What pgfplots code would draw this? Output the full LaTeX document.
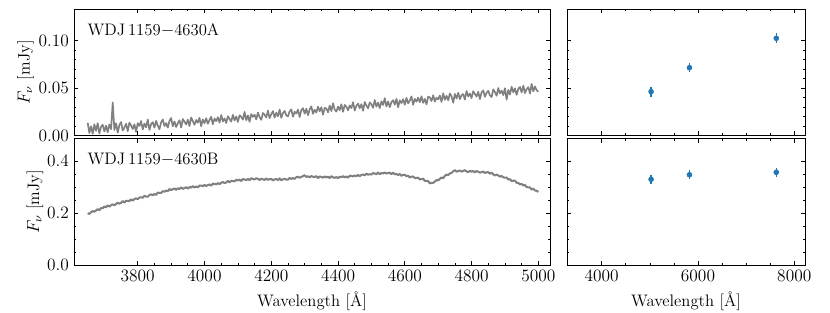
\documentclass[border=0pt]{standalone}
\usepackage{pgfplots}
\pgfplotsset{compat=1.18}
\usepackage{pgfplotstable}
\definecolor{specgray}{HTML}{808080}
\definecolor{tabblue}{HTML}{1F77B4}

\pgfplotstableread{
lam A B
3650 0.0135 0.1990
3655 0.0026 0.1965
3660 0.0097 0.2030
3665 0.0018 0.2075
3670 0.0118 0.2050
3675 0.0049 0.2095
3680 0.0130 0.2150
3685 0.0021 0.2105
3690 0.0092 0.2190
3695 0.0113 0.2185
3700 0.0043 0.2250
3705 0.0104 0.2218
3710 0.0035 0.2296
3715 0.0116 0.2244
3720 0.0067 0.2302
3725 0.0348 0.2330
3730 0.0058 0.2298
3735 0.0129 0.2346
3740 0.0030 0.2394
3745 0.0111 0.2362
3750 0.0142 0.2390
3755 0.0053 0.2456
3760 0.0083 0.2402
3765 0.0124 0.2468
3770 0.0045 0.2464
3775 0.0136 0.2460
3780 0.0107 0.2526
3785 0.0068 0.2472
3790 0.0118 0.2538
3795 0.0039 0.2564
3800 0.0130 0.2530
3805 0.0101 0.2596
3810 0.0153 0.2602
3815 0.0064 0.2588
3820 0.0125 0.2664
3825 0.0086 0.2630
3830 0.0168 0.2626
3835 0.0059 0.2692
3840 0.0120 0.2718
3845 0.0141 0.2684
3850 0.0083 0.2730
3855 0.0154 0.2698
3860 0.0105 0.2786
3865 0.0066 0.2774
3870 0.0138 0.2772
3875 0.0169 0.2840
3880 0.0100 0.2818
3885 0.0131 0.2866
3890 0.0083 0.2834
3895 0.0154 0.2922
3900 0.0185 0.2880
3905 0.0096 0.2917
3910 0.0148 0.2944
3915 0.0089 0.2891
3920 0.0130 0.2948
3925 0.0161 0.2925
3930 0.0083 0.2982
3935 0.0174 0.2929
3940 0.0145 0.2956
3945 0.0116 0.2993
3950 0.0168 0.2940
3955 0.0099 0.2998
3960 0.0190 0.2976
3965 0.0151 0.3034
3970 0.0113 0.2982
3975 0.0164 0.3020
3980 0.0135 0.2988
3985 0.0186 0.3056
3990 0.0098 0.3054
3995 0.0169 0.3032
4000 0.0130 0.3080
4005 0.0182 0.3040
4010 0.0123 0.3070
4015 0.0165 0.3100
4020 0.0197 0.3050
4025 0.0118 0.3130
4030 0.0180 0.3120
4035 0.0151 0.3100
4040 0.0193 0.3150
4045 0.0135 0.3110
4050 0.0216 0.3160
4055 0.0148 0.3191
4060 0.0180 0.3152
4065 0.0131 0.3173
4070 0.0203 0.3234
4075 0.0174 0.3175
4080 0.0146 0.3236
4085 0.0218 0.3227
4090 0.0159 0.3218
4095 0.0201 0.3279
4100 0.0143 0.3250
4105 0.0214 0.3285
4110 0.0196 0.3230
4115 0.0167 0.3305
4120 0.0249 0.3290
4125 0.0161 0.3265
4130 0.0212 0.3310
4135 0.0144 0.3265
4140 0.0226 0.3340
4145 0.0197 0.3305
4150 0.0219 0.3290
4155 0.0170 0.3337
4160 0.0242 0.3314
4165 0.0194 0.3271
4170 0.0165 0.3318
4175 0.0237 0.3295
4180 0.0219 0.3272
4185 0.0190 0.3329
4190 0.0262 0.3276
4195 0.0183 0.3303
4200 0.0225 0.3310
4205 0.0257 0.3252
4210 0.0189 0.3294
4215 0.0240 0.3306
4220 0.0202 0.3268
4225 0.0274 0.3330
4230 0.0186 0.3262
4235 0.0237 0.3294
4240 0.0259 0.3316
4245 0.0211 0.3288
4250 0.0203 0.3280
4255 0.0254 0.3351
4260 0.0276 0.3312
4265 0.0198 0.3343
4270 0.0250 0.3314
4275 0.0231 0.3375
4280 0.0273 0.3396
4285 0.0195 0.3357
4290 0.0267 0.3388
4295 0.0288 0.3419
4300 0.0230 0.3450
4305 0.0282 0.3387
4310 0.0214 0.3414
4315 0.0275 0.3371
4320 0.0307 0.3418
4325 0.0229 0.3395
4330 0.0271 0.3382
4335 0.0242 0.3419
4340 0.0304 0.3346
4345 0.0256 0.3403
4350 0.0298 0.3390
4355 0.0219 0.3359
4360 0.0291 0.3408
4365 0.0283 0.3367
4370 0.0245 0.3396
4375 0.0316 0.3345
4380 0.0258 0.3414
4385 0.0340 0.3373
4390 0.0272 0.3352
4395 0.0253 0.3381
4400 0.0305 0.3340
4405 0.0267 0.3395
4410 0.0329 0.3380
4415 0.0250 0.3415
4420 0.0322 0.3370
4425 0.0304 0.3405
4430 0.0266 0.3360
4435 0.0317 0.3435
4440 0.0289 0.3430
4445 0.0351 0.3405
4450 0.0263 0.3440
4455 0.0314 0.3418
4460 0.0336 0.3466
4465 0.0288 0.3414
4470 0.0330 0.3462
4475 0.0261 0.3480
4480 0.0353 0.3448
4485 0.0315 0.3516
4490 0.0287 0.3474
4495 0.0348 0.3492
4500 0.0330 0.3480
4505 0.0292 0.3534
4510 0.0374 0.3518
4515 0.0305 0.3492
4520 0.0347 0.3556
4525 0.0289 0.3490
4530 0.0361 0.3544
4535 0.0322 0.3518
4540 0.0394 0.3562
4545 0.0306 0.3516
4550 0.0358 0.3540
4555 0.0299 0.3550
4560 0.0351 0.3490
4565 0.0373 0.3550
4570 0.0325 0.3490
4575 0.0386 0.3500
4580 0.0298 0.3460
4585 0.0370 0.3500
4590 0.0342 0.3430
4595 0.0383 0.3470
4600 0.0325 0.3470
4605 0.0397 0.3417
4610 0.0339 0.3434
4615 0.0370 0.3361
4620 0.0412 0.3398
4625 0.0324 0.3405
4630 0.0386 0.3342
4635 0.0357 0.3349
4640 0.0399 0.3356
4645 0.0351 0.3293
4650 0.0413 0.3300
4655 0.0344 0.3322
4660 0.0386 0.3233
4665 0.0328 0.3235
4670 0.0410 0.3227
4675 0.0401 0.3138
4680 0.0363 0.3160
4685 0.0425 0.3163
4690 0.0357 0.3206
4695 0.0398 0.3269
4700 0.0380 0.3251
4705 0.0422 0.3314
4710 0.0354 0.3367
4715 0.0445 0.3340
4720 0.0377 0.3426
4725 0.0419 0.3481
4730 0.0371 0.3457
4735 0.0442 0.3523
4740 0.0414 0.3539
4745 0.0346 0.3604
4750 0.0438 0.3650
4755 0.0389 0.3588
4760 0.0451 0.3616
4765 0.0383 0.3634
4770 0.0425 0.3592
4775 0.0436 0.3620
4780 0.0378 0.3648
4785 0.0470 0.3596
4790 0.0412 0.3574
4795 0.0443 0.3622
4800 0.0395 0.3590
4805 0.0467 0.3615
4810 0.0438 0.3560
4815 0.0410 0.3615
4820 0.0462 0.3590
4825 0.0383 0.3555
4830 0.0455 0.3570
4835 0.0476 0.3595
4840 0.0408 0.3540
4845 0.0450 0.3565
4850 0.0471 0.3570
4855 0.0423 0.3511
4860 0.0405 0.3552
4865 0.0486 0.3483
4870 0.0458 0.3444
4875 0.0419 0.3475
4880 0.0501 0.3446
4885 0.0443 0.3397
4890 0.0474 0.3428
4895 0.0426 0.3369
4900 0.0498 0.3360
4905 0.0379 0.3364
4910 0.0481 0.3288
4915 0.0432 0.3302
4920 0.0514 0.3226
4925 0.0456 0.3240
4930 0.0497 0.3244
4935 0.0429 0.3158
4940 0.0491 0.3162
4945 0.0512 0.3096
4950 0.0454 0.3120
4955 0.0525 0.3062
4960 0.0447 0.3074
4965 0.0489 0.2996
4970 0.0510 0.2988
4975 0.0442 0.2980
4980 0.0544 0.2902
4985 0.0465 0.2934
4990 0.0517 0.2866
4995 0.0478 0.2858
5000 0.0460 0.2810
}\spec

\pgfplotstableread{
lam f e
5025 0.0462 0.0011
5822 0.0715 0.0006
7626 0.1025 0.0011
}\photA

\pgfplotstableread{
lam f e
5025 0.3296 0.0030
5822 0.3470 0.0025
7626 0.3565 0.0030
}\photB

\pgfplotsset{
  panel/.style={
    scale only axis,
    anchor=south west,
    font=\fontsize{11.5}{13.8}\selectfont,
    tick align=inside,
    xtick pos=both, ytick pos=both,
    major tick length=3pt, minor tick length=1.7pt,
    axis line style={line width=0.6pt},
    every tick/.style={black, line width=0.5pt},
    scaled x ticks=false, scaled y ticks=false,
    xticklabel style={/pgf/number format/1000 sep={}},
    clip=true,
  },
  toprow/.style={
    height=87.285pt, ymin=0, ymax=0.1334,
    ytick={0,0.05,0.1}, minor y tick num=4,
    yticklabel style={/pgf/number format/fixed, /pgf/number format/fixed zerofill, /pgf/number format/precision=2},
  },
  botrow/.style={
    height=87.285pt, ymin=0, ymax=0.4865,
    ytick={0,0.2,0.4}, minor y tick num=3,
    yticklabel style={/pgf/number format/fixed, /pgf/number format/fixed zerofill, /pgf/number format/precision=1},
  },
  leftcol/.style={
    width=328.44pt, xmin=3609, xmax=5035,
    xtick={3800,4000,...,5000}, minor x tick num=3,
    ylabel={$F_\nu$ [mJy]},
  },
  rightcol/.style={
    width=164.22pt, xmin=3278, xmax=8223,
    xtick={4000,6000,8000}, minor x tick num=3,
    yticklabels={},
  },
  phot/.style={
    only marks, mark=*, mark size=1.7pt, color=tabblue,
    error bars/.cd, y dir=both, y explicit,
    error bar style={line width=0.9pt, tabblue},
    error mark options={tabblue, mark size=2.6pt, line width=0.9pt},
  },
}

\begin{document}
\begin{tikzpicture}
\path[use as bounding box] (0,0) rectangle (572.7pt,215.28pt);

% top-left
\begin{axis}[panel, toprow, leftcol, at={(51.06pt,121.785pt)}, xticklabels={},
  ylabel style={at={(axis description cs:-0.102,0.5)}, anchor=center}]
\addplot[specgray, line width=1.15pt, line join=round] table[x=lam, y=A] {\spec};
\node[anchor=west] at (rel axis cs:0.018,0.835) {WDJ\,1159$-$4630A};
\end{axis}

% bottom-left
\begin{axis}[panel, botrow, leftcol, at={(51.06pt,32.43pt)}, xlabel={Wavelength [\AA]},
  ylabel style={at={(axis description cs:-0.082,0.5)}, anchor=center}]
\addplot[specgray, line width=1.4pt, line join=round] table[x=lam, y=B] {\spec};
\node[anchor=west] at (rel axis cs:0.018,0.835) {WDJ\,1159$-$4630B};
\end{axis}

% top-right
\begin{axis}[panel, toprow, rightcol, at={(391.23pt,121.785pt)}, xticklabels={}]
\addplot[phot] table[x=lam, y=f, y error=e] {\photA};
\end{axis}

% bottom-right
\begin{axis}[panel, botrow, rightcol, at={(391.23pt,32.43pt)}, xlabel={Wavelength [\AA]}]
\addplot[phot] table[x=lam, y=f, y error=e] {\photB};
\end{axis}
\end{tikzpicture}
\end{document}
